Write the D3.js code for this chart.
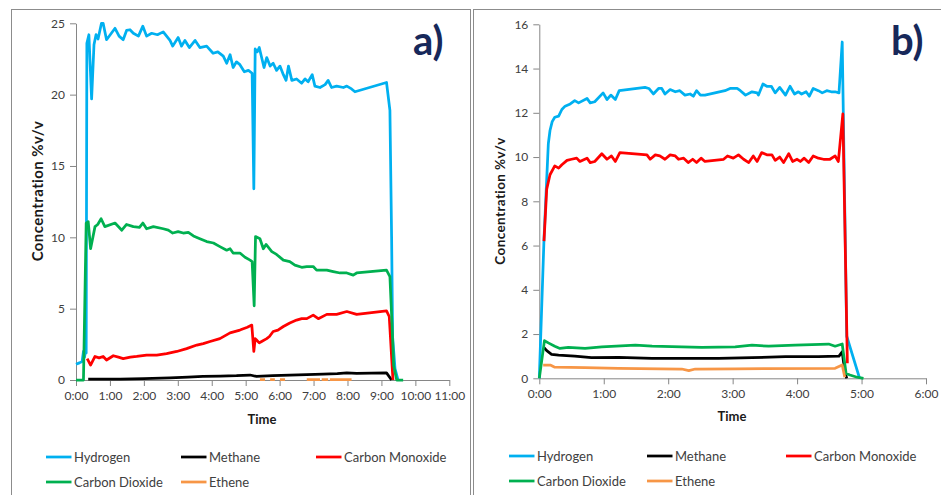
<!DOCTYPE html>
<html>
<head>
<meta charset="utf-8">
<script src="https://cdn.jsdelivr.net/npm/d3@7"></script>
<style>
  html, body { margin: 0; padding: 0; background: #ffffff; }
  svg { display: block; font-family: Lato, "Liberation Sans", sans-serif; }
</style>
</head>
<body>
<svg id="chart" width="941" height="495"></svg>
<script>
// ---- Gas concentration data, [time (h), concentration %v/v] ----
const seriesNames = ["Hydrogen", "Methane", "Carbon Monoxide", "Carbon Dioxide", "Ethene"];

// Run a)
const hydrogenA = [[0,1.1],[0.1,1.2],[0.18,1.3],[0.22,2.0],[0.25,1.6],[0.28,2.0],[0.30,1.9],[0.32,23.6],[0.38,24.2],[0.46,19.7],[0.53,23.5],[0.59,24.2],[0.65,23.9],[0.75,25.0],[0.80,25.0],[0.90,23.85],[1.15,24.65],[1.27,24.1],[1.39,23.85],[1.49,24.5],[1.59,24.55],[1.69,24.3],[1.84,24.1],[1.97,24.8],[2.08,24.1],[2.23,24.3],[2.40,24.2],[2.57,24.4],[2.77,23.8],[2.85,23.4],[3.01,24.0],[3.11,23.4],[3.21,23.8],[3.34,23.3],[3.51,23.8],[3.65,23.3],[3.85,23.4],[4.04,22.9],[4.18,23.0],[4.34,22.7],[4.44,22.2],[4.54,22.8],[4.63,21.9],[4.73,22.3],[4.83,22.1],[4.96,21.6],[5.08,21.7],[5.19,21.5],[5.24,13.4],[5.28,23.2],[5.34,23.0],[5.40,23.3],[5.54,21.9],[5.62,22.6],[5.72,22.0],[5.81,22.2],[5.91,21.7],[6.01,22.0],[6.11,21.4],[6.19,21.0],[6.26,22.0],[6.36,21.0],[6.50,21.1],[6.65,20.8],[6.75,21.1],[6.84,20.9],[6.96,21.4],[7.04,20.6],[7.19,20.5],[7.34,20.7],[7.43,21.0],[7.53,20.5],[7.68,20.6],[7.88,20.5],[7.98,20.6],[8.12,20.4],[8.22,20.2],[9.15,20.85],[9.25,18.9],[9.30,10.0],[9.33,3.0],[9.40,0.8],[9.49,0]];
const methaneA = [[0.36,0.07],[1.30,0.07],[2.00,0.1],[2.77,0.15],[3.30,0.2],[3.74,0.25],[4.25,0.28],[4.73,0.3],[5.13,0.35],[5.32,0.25],[5.80,0.3],[6.30,0.35],[6.80,0.38],[7.28,0.42],[7.70,0.45],[7.98,0.5],[8.27,0.47],[8.70,0.48],[9.15,0.5],[9.30,0]];
const carbonMonoxideA = [[0.33,1.5],[0.43,1.05],[0.56,1.65],[0.68,1.55],[0.80,1.65],[0.90,1.4],[1.10,1.7],[1.25,1.6],[1.39,1.5],[1.60,1.6],[1.79,1.65],[2.08,1.75],[2.38,1.75],[2.67,1.85],[2.97,2.0],[3.26,2.2],[3.56,2.45],[3.75,2.55],[3.95,2.7],[4.24,2.9],[4.54,3.3],[4.83,3.5],[5.05,3.7],[5.18,3.85],[5.24,2.0],[5.28,2.9],[5.32,2.8],[5.40,2.6],[5.47,2.7],[5.62,2.9],[5.70,3.05],[5.81,3.4],[5.95,3.5],[6.11,3.75],[6.30,4.0],[6.50,4.2],[6.65,4.3],[6.80,4.3],[6.99,4.55],[7.14,4.3],[7.39,4.6],[7.68,4.6],[7.98,4.8],[8.27,4.6],[9.15,4.85],[9.23,4.45],[9.34,0]];
const carbonDioxideA = [[0,0],[0.22,0],[0.30,11.0],[0.36,11.1],[0.43,9.2],[0.56,10.75],[0.64,10.9],[0.74,11.3],[0.85,10.75],[1.15,11.0],[1.35,10.5],[1.49,10.9],[1.69,10.75],[1.87,10.7],[1.97,11.0],[2.08,10.6],[2.28,10.75],[2.57,10.6],[2.72,10.5],[2.85,10.3],[3.01,10.4],[3.16,10.3],[3.31,10.35],[3.46,10.1],[3.65,9.9],[3.85,9.7],[4.05,9.6],[4.24,9.35],[4.44,9.1],[4.54,9.2],[4.63,8.9],[4.83,8.9],[4.98,8.6],[5.13,8.4],[5.19,8.3],[5.25,5.2],[5.29,10.05],[5.42,9.9],[5.52,9.2],[5.60,9.5],[5.77,9.0],[5.91,8.8],[6.11,8.4],[6.30,8.3],[6.45,8.05],[6.65,7.9],[6.80,7.95],[6.99,7.95],[7.09,7.7],[7.39,7.7],[7.58,7.6],[7.78,7.5],[7.98,7.5],[8.17,7.35],[8.27,7.5],[9.15,7.7],[9.25,7.25],[9.31,4.0],[9.36,1.0],[9.45,0],[9.64,0]];
const etheneA = [[5.42,0.03],[5.57,0.03],null,[5.72,0.03],[5.86,0.03],null,[6.01,0.03],[6.16,0.03],null,[6.80,0.03],[7.19,0.03],null,[7.24,0.03],[7.43,0.03],null,[7.48,0.03],[8.12,0.03]];

// Run b)
const hydrogenB = [[0,0],[0.073,6.3],[0.14,10.6],[0.166,11.2],[0.20,11.6],[0.24,11.8],[0.30,11.85],[0.35,12.15],[0.40,12.3],[0.48,12.4],[0.55,12.55],[0.61,12.45],[0.74,12.65],[0.79,12.45],[0.86,12.5],[0.99,12.9],[1.05,12.6],[1.11,12.8],[1.18,12.6],[1.24,13.0],[1.64,13.15],[1.70,13.1],[1.77,12.85],[1.85,13.1],[1.90,13.1],[1.95,12.85],[2.03,13.05],[2.11,12.95],[2.18,13.0],[2.26,12.8],[2.34,12.85],[2.39,12.75],[2.44,13.0],[2.50,12.8],[2.57,12.8],[2.88,13.0],[2.96,13.1],[3.07,13.1],[3.12,13.0],[3.20,12.8],[3.30,12.95],[3.38,12.9],[3.40,12.8],[3.47,13.3],[3.53,13.2],[3.60,13.2],[3.66,12.9],[3.73,13.15],[3.82,12.8],[3.89,13.2],[3.96,12.85],[4.02,12.95],[4.07,12.85],[4.14,12.95],[4.19,12.75],[4.25,13.1],[4.33,13.0],[4.39,12.9],[4.46,13.0],[4.53,12.95],[4.59,12.95],[4.65,12.9],[4.70,15.2],[4.77,1.9],[4.97,0]];
const methaneB = [[0.07,1.4],[0.115,1.25],[0.19,1.08],[0.30,1.05],[0.55,1.0],[0.81,0.93],[1.23,0.95],[1.75,0.9],[2.26,0.9],[2.78,0.9],[3.30,0.93],[3.82,0.98],[4.33,0.98],[4.65,1.0],[4.70,1.2],[4.74,0.3],[4.77,0]];
const carbonMonoxideB = [[0.073,6.2],[0.115,8.55],[0.166,9.2],[0.24,9.6],[0.30,9.5],[0.35,9.65],[0.43,9.85],[0.50,9.9],[0.58,9.95],[0.63,9.8],[0.74,9.95],[0.79,9.75],[0.86,9.8],[0.97,10.15],[1.05,9.9],[1.12,10.05],[1.18,9.8],[1.25,10.2],[1.67,10.1],[1.72,9.9],[1.80,10.1],[1.87,10.05],[1.95,9.9],[2.03,10.1],[2.11,10.05],[2.16,9.9],[2.24,9.95],[2.31,9.75],[2.38,9.9],[2.44,9.75],[2.51,9.95],[2.57,9.8],[2.86,9.9],[2.92,10.05],[3.01,9.95],[3.09,10.1],[3.17,9.9],[3.25,9.75],[3.32,10.05],[3.38,9.8],[3.45,10.2],[3.53,10.1],[3.61,10.1],[3.66,9.85],[3.73,10.0],[3.79,9.75],[3.87,10.15],[3.93,9.8],[4.00,9.9],[4.05,9.8],[4.11,9.95],[4.18,9.75],[4.25,10.05],[4.33,9.95],[4.41,9.9],[4.51,9.9],[4.59,10.05],[4.64,9.8],[4.71,11.95],[4.78,0.68]];
const carbonDioxideB = [[0,0],[0.08,1.7],[0.14,1.6],[0.24,1.45],[0.32,1.35],[0.45,1.4],[0.71,1.35],[0.97,1.42],[1.49,1.5],[1.75,1.45],[2.52,1.4],[3.04,1.42],[3.30,1.5],[3.56,1.45],[3.97,1.5],[4.49,1.55],[4.59,1.45],[4.70,1.55],[4.76,0.22],[4.82,0.15],[4.93,0.05],[5.03,0]];
const etheneB = [[0.06,0.6],[0.17,0.6],[0.24,0.5],[0.71,0.48],[1.23,0.45],[2.21,0.42],[2.32,0.35],[2.42,0.42],[3.04,0.43],[4.59,0.45],[4.70,0.6],[4.74,0.05]];

// Axis tick values
const timeTicksA = [0,1,2,3,4,5,6,7,8,9,10,11];
const concTicksA = [0,5,10,15,20,25];
const timeTicksB = [0,1,2,3,4,5,6];
const concTicksB = [0,2,4,6,8,10,12,14,16];

// ---- Drawing ----
const colors = {
  "Hydrogen": "#00b0f0",
  "Methane": "#000000",
  "Carbon Monoxide": "#ff0000",
  "Carbon Dioxide": "#00b050",
  "Ethene": "#f79646"
};
const axisColor = "#868686";
const textColor = "#404040";
const fmtTime = d => `${d}:00`;

const svg = d3.select("#chart");
svg.append("rect").attr("width", 941).attr("height", 495).attr("fill", "#ffffff");

const panels = [
  {
    frame: {x: 11.5, y: 9.5, w: 459, h: 500},
    plot: {left: 76, right: 449.3, top: 23.3, bottom: 380},
    xMax: 11, yMax: 25, xTicks: timeTicksA, yTicks: concTicksA,
    data: [hydrogenA, methaneA, carbonMonoxideA, carbonDioxideA, etheneA],
    tag: "a)", tagX: 413, yTitle: {x: 37, y: 191, size: 15}, xTitle: {x: 262, y: 424},
    legend: {rows: [457, 482], cols: [46, 181, 316]}
  },
  {
    frame: {x: 473.5, y: 9.5, w: 480, h: 500},
    plot: {left: 539.3, right: 926, top: 24.3, bottom: 378.3},
    xMax: 6, yMax: 16, xTicks: timeTicksB, yTicks: concTicksB,
    data: [hydrogenB, methaneB, carbonMonoxideB, carbonDioxideB, etheneB],
    tag: "b)", tagX: 891, yTitle: {x: 500, y: 201, size: 13.5}, xTitle: {x: 732, y: 421},
    legend: {rows: [456, 481], cols: [509, 647, 786]}
  }
];

panels.forEach(p => {
  const g = svg.append("g");
  g.append("rect")
    .attr("x", p.frame.x).attr("y", p.frame.y)
    .attr("width", p.frame.w).attr("height", p.frame.h)
    .attr("fill", "none").attr("stroke", "#8c8c8c").attr("stroke-width", 1);

  const x = d3.scaleLinear().domain([0, p.xMax]).range([p.plot.left, p.plot.right]);
  const y = d3.scaleLinear().domain([0, p.yMax]).range([p.plot.bottom, p.plot.top]);

  const yAxis = g.append("g")
    .attr("transform", `translate(${p.plot.left},0)`)
    .call(d3.axisLeft(y).tickValues(p.yTicks).tickSize(6).tickSizeOuter(0).tickPadding(5));
  const xAxis = g.append("g")
    .attr("transform", `translate(0,${p.plot.bottom})`)
    .call(d3.axisBottom(x).tickValues(p.xTicks).tickFormat(fmtTime).tickSize(6).tickSizeOuter(0).tickPadding(5));
  [xAxis, yAxis].forEach(a => {
    a.select(".domain").attr("stroke", axisColor);
    a.selectAll(".tick line").attr("stroke", axisColor);
    a.selectAll(".tick text").attr("fill", textColor)
      .style("font-size", "12px").style("font-family", "Lato, sans-serif");
  });

  const line = d3.line()
    .defined(d => d !== null)
    .x(d => x(d[0])).y(d => y(d[1]));

  // Hydrogen drawn first, Ethene last
  p.data.forEach((series, i) => {
    g.append("path")
      .datum(series)
      .attr("d", line)
      .attr("fill", "none")
      .attr("stroke", colors[seriesNames[i]])
      .attr("stroke-width", 2.75)
      .attr("stroke-linejoin", "round")
      .attr("stroke-linecap", "butt");
  });

  // Axis titles
  g.append("text")
    .attr("transform", `translate(${p.yTitle.x},${p.yTitle.y}) rotate(-90)`)
    .attr("text-anchor", "middle").attr("dominant-baseline", "central")
    .attr("font-weight", "bold").attr("font-size", p.yTitle.size).attr("fill", "#1a1a1a")
    .attr("letter-spacing", 0.4)
    .text("Concentration %v/v");
  g.append("text")
    .attr("x", p.xTitle.x).attr("y", p.xTitle.y)
    .attr("text-anchor", "middle")
    .attr("font-weight", "bold").attr("font-size", 13).attr("fill", "#1a1a1a")
    .text("Time");

  // Panel tag
  g.append("text")
    .attr("x", p.tagX).attr("y", 55)
    .attr("font-weight", "bold").attr("font-size", 40).attr("fill", "#17285a")
    .attr("font-family", "Lato, sans-serif")
    .text(p.tag);

  // Legend
  seriesNames.forEach((name, i) => {
    const row = Math.floor(i / 3), col = i % 3;
    const lx = p.legend.cols[col], ly = p.legend.rows[row];
    g.append("line")
      .attr("x1", lx).attr("x2", lx + 25.5).attr("y1", ly).attr("y2", ly)
      .attr("stroke", colors[name]).attr("stroke-width", 2.75);
    g.append("text")
      .attr("x", lx + 28).attr("y", ly).attr("dominant-baseline", "central")
      .attr("font-size", 13).attr("fill", textColor)
      .text(name);
  });
});
</script>
</body>
</html>
